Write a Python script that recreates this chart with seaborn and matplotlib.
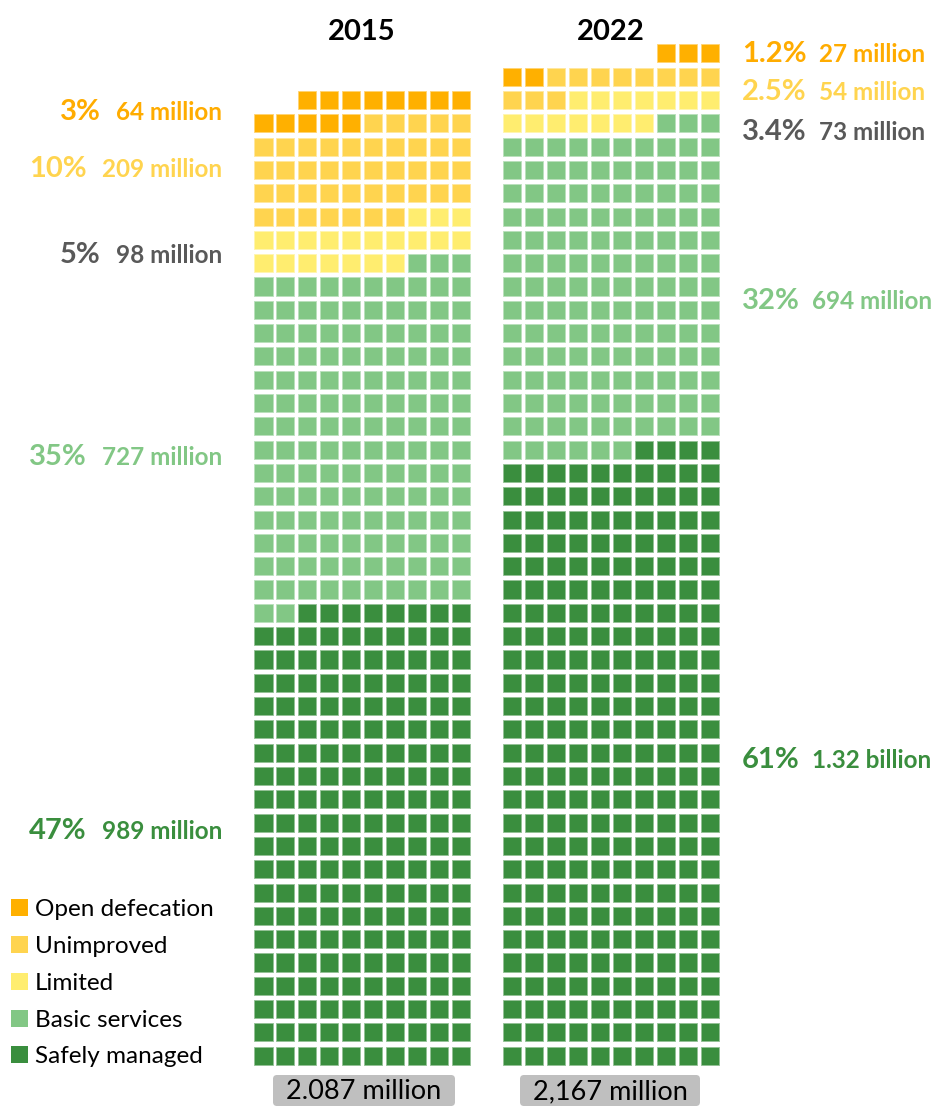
import matplotlib
matplotlib.use("Agg")
import matplotlib.pyplot as plt
from matplotlib.patches import FancyBboxPatch, Rectangle
from matplotlib.colors import to_rgb
import numpy as np
import pandas as pd
import seaborn as sns

# ---- data -------------------------------------------------------------
categories = ["Open defecation", "Unimproved", "Limited", "Basic services", "Safely managed"]
fill_colors = ["#FFB000", "#FFD44F", "#FFED6F", "#82C785", "#3A8E3E"]
text_colors = ["#FFAC00", "#FFD44F", "#595959", "#82C785", "#3A8E3E"]

years = ["2015", "2022"]
# one square = 5 million people
squares_2015 = [13, 42, 20, 145, 198]
squares_2022 = [5, 11, 14, 139, 264]
pct_2015 = ["3%", "10%", "5%", "35%", "47%"]
pct_2022 = ["1.2%", "2.5%", "3.4%", "32%", "61%"]
people_2015 = ["64 million", "209 million", "98 million", "727 million", "989 million"]
people_2022 = ["27 million", "54 million", "73 million", "694 million", "1.32 billion"]
totals = ["2.087 million", "2,167 million"]

# ---- style ------------------------------------------------------------
sns.set_theme(style="white")
plt.rcParams["font.family"] = ["Lato", "DejaVu Sans"]

W, H = 937, 1108
fig = plt.figure(figsize=(W / 100, H / 100), dpi=100)
fig.patch.set_facecolor("white")

NCOLS = 10
COL_PITCH = 21.92
ROW_PITCH = 23.31
GRID_BOTTOM = 1067.4
grid_left = {"2015": 252.5, "2022": 501.4}
palette = dict(zip(categories, fill_colors))


def tint(c, f=0.45):
    r, g, b = to_rgb(c)
    return (r + (1 - r) * f, g + (1 - g) * f, b + (1 - b) * f)


edge_palette = {k: tint(v) for k, v in palette.items()}


def waffle_frame(counts):
    cats = np.repeat(categories, counts)
    n = len(cats)
    nrows = -(-n // NCOLS)
    pos = np.arange(n) + (nrows * NCOLS - n)  # partial row sits top-right
    df = pd.DataFrame({"col": pos % NCOLS, "row": pos // NCOLS, "category": cats})
    return df, nrows


for year, counts in zip(years, [squares_2015, squares_2022]):
    df, nrows = waffle_frame(counts)
    left = grid_left[year]
    ax = fig.add_axes([left / W, 1 - GRID_BOTTOM / H,
                       NCOLS * COL_PITCH / W, nrows * ROW_PITCH / H])
    sns.scatterplot(data=df, x="col", y="row", hue="category", palette=palette,
                    marker="s", s=170, linewidth=0.6,
                    edgecolor=[edge_palette[c] for c in df["category"]],
                    legend=False, ax=ax)
    ax.set_xlim(-0.5, NCOLS - 0.5)
    ax.set_ylim(nrows - 0.5, -0.5)
    ax.axis("off")

# ---- overlay in pixel units for text ---------------------------------
ov = fig.add_axes([0, 0, 1, 1])
ov.set_xlim(0, W)
ov.set_ylim(H, 0)
ov.axis("off")
ov.patch.set_alpha(0)

# year titles
for year, cx in zip(years, [362, 611]):
    ov.text(cx, 40, year, ha="center", va="baseline", fontsize=21,
            fontweight="bold", color="black")

fig.canvas.draw()
renderer = fig.canvas.get_renderer()

PCT_SIZE = 21
PPL_SIZE = 17.5
GAP = 15

# left labels (2015)
left_base = [120, 177, 263, 465, 839]
for pct, ppl, col, yb in zip(pct_2015, people_2015, text_colors, left_base):
    t = ov.text(222, yb, ppl, ha="right", va="baseline", fontsize=PPL_SIZE,
                fontweight="bold", color=col)
    w = t.get_window_extent(renderer).width
    ov.text(222 - w - GAP, yb, pct, ha="right", va="baseline", fontsize=PCT_SIZE,
            fontweight="bold", color=col)

# right labels (2022)
right_base = [62, 100, 140, 309, 768]
for pct, ppl, col, yb in zip(pct_2022, people_2022, text_colors, right_base):
    t = ov.text(742, yb, pct, ha="left", va="baseline", fontsize=PCT_SIZE,
                fontweight="bold", color=col)
    w = t.get_window_extent(renderer).width
    ov.text(742 + w + GAP - 3, yb, ppl, ha="left", va="baseline", fontsize=PPL_SIZE,
            fontweight="bold", color=col)

# legend
leg_base = [916, 953, 990, 1027, 1063]
for cat, col, yb in zip(categories, fill_colors, leg_base):
    ov.add_patch(Rectangle((11, yb - 17), 17, 17, facecolor=col, edgecolor="none"))
    ov.text(35, yb, cat, ha="left", va="baseline", fontsize=17.5, color="black")

# total boxes
for label, (x0, x1) in zip(totals, [(273, 455), (520, 700)]):
    ov.add_patch(FancyBboxPatch((x0 + 4, 1075 + 4), x1 - x0 - 8, 31 - 8,
                                boxstyle="round,pad=4", facecolor="#BFBFBF",
                                edgecolor="none"))
    ov.text((x0 + x1) / 2, 1099, label, ha="center", va="baseline",
            fontsize=19.5, color="black")

fig.savefig("out.png", dpi=100, facecolor="white")
